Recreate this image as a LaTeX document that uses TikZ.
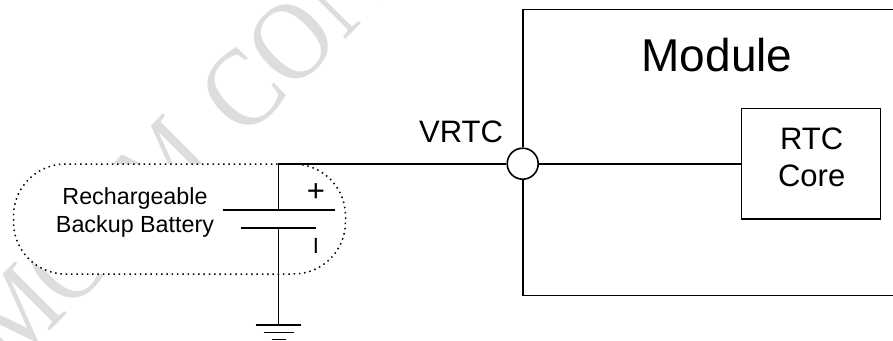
\documentclass[tikz,border=0pt]{standalone}
\usepackage{fontspec}
\setmainfont{Liberation Sans}
\newfontfamily\markfont{Liberation Serif}
\usepackage{tikz}
\usetikzlibrary{positioning}
\definecolor{markgray}{HTML}{DDDDDD}
\tikzset{
  wire/.style={line width=1.6pt,draw=black},
  label/.style={inner sep=0pt,align=center,font=\fontsize{31}{37}\selectfont},
  markword/.style={inner sep=0pt,anchor=base west,text=markgray,rotate=45,transform shape,font=\fontsize{112}{112}\markfont\selectfont},
}

\begin{document}
\begin{tikzpicture}[x=1pt,y=-1pt]
      \useasboundingbox (0,0) rectangle (893,340);
      % pale mark behind everything
      \begin{scope}
        \clip (0,0) rectangle (893,340);
        \node[markword,xscale=.82](markone) at (11,370){MCOM};
        \node[markword,xscale=.9](marktwo) at (244,141){CON};
      \end{scope}
      \node[draw,dash pattern=on 1.5pt off 3.8pt,line width=1.5pt,fill=white,rounded corners=52pt,minimum width=332pt,minimum height=110pt,inner sep=0pt](pack) at (179.5,219){};
      \node[label,font=\fontsize{23.3}{28.3}\selectfont](packtext) at (135,212.5){Rechargeable\\Backup Battery};
      % module and its core
      \node[label,font=\fontsize{46}{46}\selectfont](module) at (717,55){Module};
      \node[wire,minimum width=139pt,minimum height=110.5pt,inner sep=0pt](rtc) at (810.8,163.7){};
      \node[label](rtctext) at (811.7,157.5){RTC\\Core};
      \node[circle,wire,fill=white,minimum size=31pt,inner sep=0pt](vrtc) at (522.7,163.7){};
      \node[label](vrtctext) at (461,131.7){VRTC};
      \coordinate (modtop) at (893,9.5);
      \coordinate (modbot) at (893,295.5);
      \draw[wire] (modtop) -| (vrtc.north);
      \draw[wire] (modbot) -| (vrtc.south);
      \draw[wire] (vrtc.east) -- (rtc.west);
      % battery and ground
      \coordinate (plus) at (278.5,209.7);
      \coordinate (minus) at (278.5,228);
      \coordinate (gnd) at (278.5,325);
      \draw[wire] (vrtc.west) -| (plus);
      \draw[wire] (minus) -- (gnd);
      \draw[wire] ([xshift=-56pt]plus) -- ([xshift=56pt]plus);
      \draw[wire] ([xshift=-37.5pt]minus) -- ([xshift=37.5pt]minus);
      \draw[wire] ([xshift=-22.8pt]gnd) -- ([xshift=22.8pt]gnd);
      \draw[wire] ([xshift=-15pt,yshift=-7.3pt]gnd) -- ([xshift=15pt,yshift=-7.3pt]gnd);
      \draw[wire] ([xshift=-7pt,yshift=-14.5pt]gnd) -- ([xshift=7pt,yshift=-14.5pt]gnd);
      \node[label,font=\fontsize{31}{31}\selectfont](plussign) at (316,193){+};
      \node[label,font=\fontsize{22}{22}\selectfont](minussign) at (316,246){I};
    \end{tikzpicture}
\end{document}
